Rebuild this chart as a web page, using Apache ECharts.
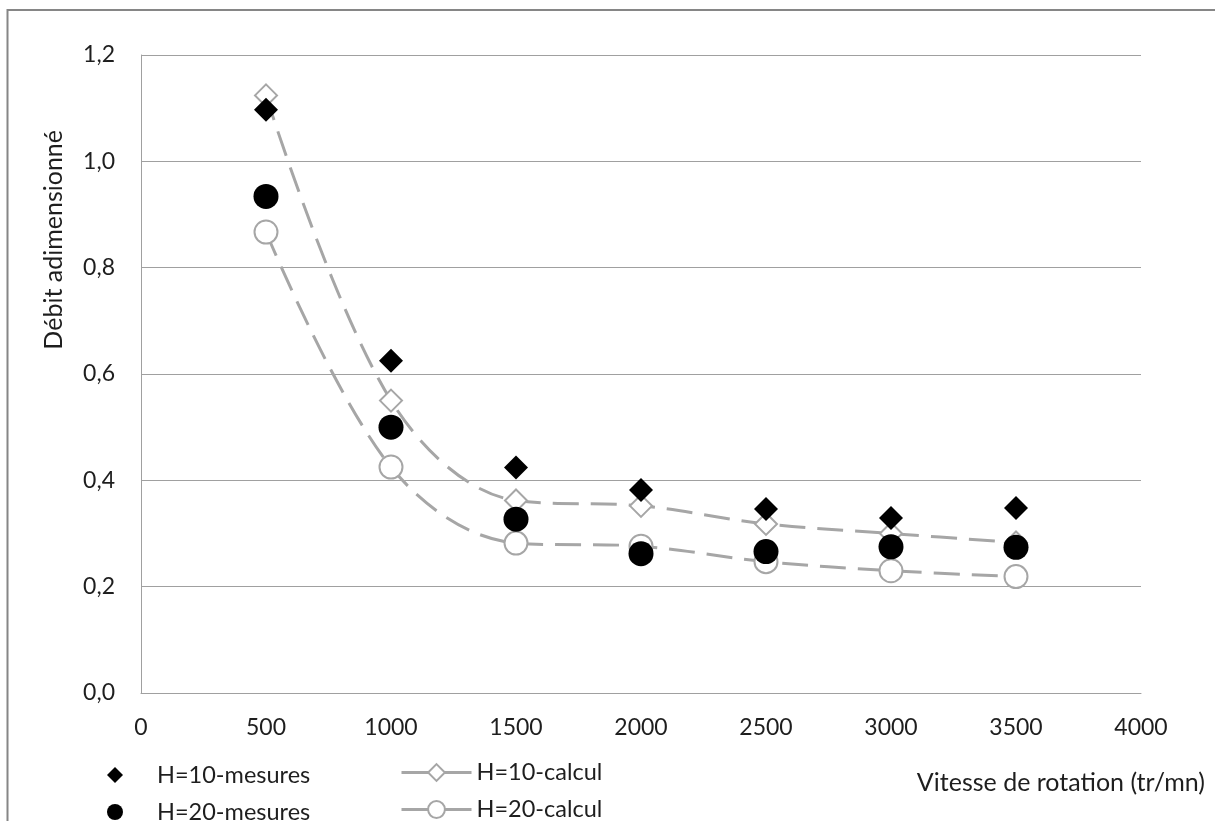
<!DOCTYPE html>
<html>
<head>
<meta charset="utf-8">
<script src="https://cdn.jsdelivr.net/npm/echarts@6/dist/echarts.min.js"></script>
<style>
html,body{margin:0;padding:0;background:#fff;}
#chart{width:1215px;height:821px;}
</style>
</head>
<body>
<div id="chart"></div>
<script>
// ---- data ----
const speeds = [500, 1000, 1500, 2000, 2500, 3000, 3500];
const h10Mesures = [1.097, 0.625, 0.424, 0.382, 0.346, 0.329, 0.348];
const h10Calcul  = [1.124, 0.550, 0.362, 0.352, 0.318, 0.300, 0.283];
const h20Mesures = [0.934, 0.500, 0.327, 0.262, 0.266, 0.275, 0.274];
const h20Calcul  = [0.867, 0.425, 0.282, 0.276, 0.247, 0.230, 0.219];
const xTickLabels = ['0','500','1000','1500','2000','2500','3000','3500','4000'];
const yTickLabels = ['0,0','0,2','0,4','0,6','0,8','1,0','1,2'];
const seriesNames = ['H=10-mesures','H=10-calcul','H=20-mesures','H=20-calcul'];
const xAxisTitle = 'Vitesse de rotation (tr/mn)';
const yAxisTitle = 'Débit adimensionné';

const pairs = arr => speeds.map((s, i) => [s, arr[i]]);
const FONT = 'Lato';
const TXT = '#1e1e1e';
const GRAY = '#A6A6A6';
const dash = [26, 12];

function markLegend(name, top) {
  return {
    data: [name], orient: 'horizontal', left: 107, top: top, padding: 0,
    itemWidth: 16, itemHeight: 16,
    textStyle: {fontSize: 23.5, color: TXT, fontFamily: FONT, padding: [0, 0, 0, 29]}
  };
}
function calcLegend(name, top) {
  return {
    data: [name], orient: 'horizontal', left: 400, top: top, padding: 0,
    itemWidth: 70, itemHeight: 21,
    lineStyle: {type: 'solid', width: 3},
    textStyle: {fontSize: 23.5, color: TXT, fontFamily: FONT}
  };
}

const chart = echarts.init(document.getElementById('chart'), null, {renderer: 'canvas'});
chart.setOption({
  backgroundColor: '#fff',
  animation: false,
  textStyle: {fontFamily: FONT},
  grid: {left: 141, right: 74, top: 55, bottom: 128, containLabel: false},
  xAxis: {
    type: 'value', min: 0, max: 4000, interval: 500,
    axisLine: {show: true, lineStyle: {color: '#A0A0A0', width: 1}},
    axisTick: {show: false},
    splitLine: {show: false},
    axisLabel: {color: TXT, fontSize: 23, fontFamily: FONT, margin: 23,
      formatter: (v) => xTickLabels[Math.round(v / 500)]}
  },
  yAxis: {
    type: 'value', min: 0, max: 1.2, interval: 0.2,
    axisLine: {show: true, lineStyle: {color: '#A0A0A0', width: 1}},
    axisTick: {show: false},
    splitLine: {show: true, lineStyle: {color: '#A0A0A0', width: 1}},
    axisLabel: {color: TXT, fontSize: 23, fontFamily: FONT, margin: 26,
      formatter: (v) => yTickLabels[Math.round(v / 0.2)]}
  },
  legend: [
    markLegend(seriesNames[0], 763),
    markLegend(seriesNames[2], 800),
    calcLegend(seriesNames[1], 760.5),
    calcLegend(seriesNames[3], 797.5)
  ],
  series: [
    {
      name: seriesNames[1], type: 'line', data: pairs(h10Calcul), z: 2,
      smooth: 0.35, symbol: 'diamond', symbolSize: 22,
      lineStyle: {color: GRAY, width: 3, type: dash},
      itemStyle: {color: '#fff', borderColor: GRAY, borderWidth: 2}
    },
    {
      name: seriesNames[3], type: 'line', data: pairs(h20Calcul), z: 2,
      smooth: 0.35, symbol: 'circle', symbolSize: 23,
      lineStyle: {color: GRAY, width: 3, type: dash},
      itemStyle: {color: '#fff', borderColor: GRAY, borderWidth: 2}
    },
    {
      name: seriesNames[0], type: 'scatter', data: pairs(h10Mesures), z: 3,
      symbol: 'diamond', symbolSize: 24,
      itemStyle: {color: '#000', opacity: 1}
    },
    {
      name: seriesNames[2], type: 'scatter', data: pairs(h20Mesures), z: 3,
      symbol: 'circle', symbolSize: 25,
      itemStyle: {color: '#000', opacity: 1}
    }
  ],
  graphic: [
    {type: 'rect', shape: {x: 7.5, y: 10, width: 1400, height: 1000},
     style: {fill: 'none', stroke: '#868686', lineWidth: 2}, silent: true},
    {type: 'text', x: 54, y: 130, rotation: Math.PI / 2,
     style: {text: yAxisTitle, fontSize: 25, fontFamily: FONT, fill: TXT,
             align: 'right', verticalAlign: 'middle'}},
    {type: 'text', x: 1205, y: 783,
     style: {text: xAxisTitle, fontSize: 25, fontFamily: FONT, fill: TXT,
             align: 'right', verticalAlign: 'middle'}}
  ]
});
</script>
</body>
</html>
